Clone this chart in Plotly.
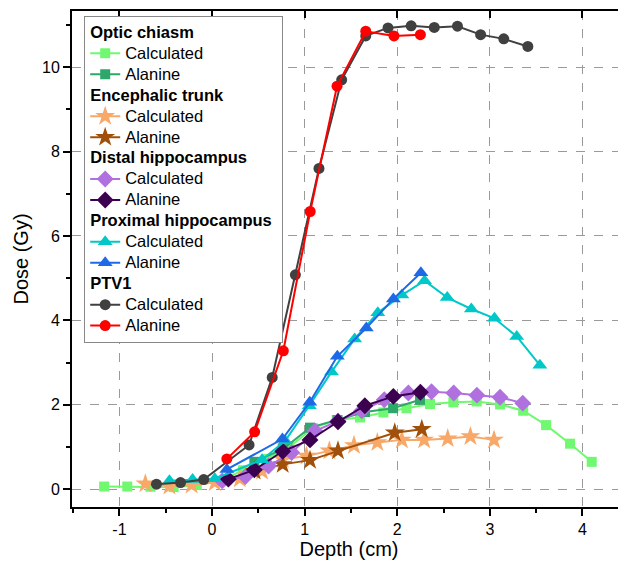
import plotly.graph_objects as go

# ---- data ----
optic_calc_x = [-1.165, -0.915, -0.665, -0.415, -0.165, 0.085, 0.335, 0.585, 0.835, 1.087, 1.347, 1.598, 1.85, 2.10, 2.354, 2.606, 2.858, 3.11, 3.36, 3.607, 3.866, 4.10]
optic_calc_y = [0.065, 0.065, 0.06, 0.05, 0.10, 0.20, 0.45, 0.72, 1.00, 1.45, 1.64, 1.70, 1.82, 1.92, 2.02, 2.06, 2.08, 2.01, 1.86, 1.52, 1.08, 0.65]
optic_ala_x = [0.457, 0.763, 1.058, 1.355, 1.652, 1.955, 2.246]
optic_ala_y = [0.65, 0.95, 1.46, 1.64, 1.83, 1.92, 2.12]

trunk_calc_x = [-0.72, -0.46, -0.22, 0.03, 0.30, 0.54, 0.763, 1.02, 1.267, 1.533, 1.785, 2.05, 2.29, 2.545, 2.79, 3.045]
trunk_calc_y = [0.13, 0.08, 0.10, 0.16, 0.25, 0.43, 0.71, 0.79, 0.91, 1.04, 1.11, 1.17, 1.17, 1.20, 1.25, 1.17]
trunk_ala_x = [0.46, 0.763, 1.058, 1.36, 1.973, 2.265]
trunk_ala_y = [0.43, 0.59, 0.69, 0.91, 1.34, 1.42]

distal_calc_x = [0.11, 0.36, 0.61, 0.86, 1.11, 1.36, 1.617, 1.86, 2.12, 2.37, 2.61, 2.86, 3.11, 3.355]
distal_calc_y = [0.20, 0.30, 0.55, 0.87, 1.38, 1.62, 1.86, 2.12, 2.28, 2.31, 2.28, 2.23, 2.18, 2.04]
distal_ala_x = [0.176, 0.457, 0.763, 1.058, 1.36, 1.65, 1.958, 2.25]
distal_ala_y = [0.24, 0.46, 0.90, 1.17, 1.60, 1.98, 2.20, 2.30]

prox_calc_x = [-0.46, -0.21, 0.03, 0.54, 0.79, 1.05, 1.29, 1.54, 1.79, 2.05, 2.295, 2.54, 2.80, 3.05, 3.29, 3.54]
prox_calc_y = [0.20, 0.23, 0.25, 0.70, 1.15, 1.98, 2.78, 3.56, 4.18, 4.60, 4.94, 4.54, 4.27, 4.05, 3.62, 2.94]
prox_ala_x = [0.16, 0.76, 1.055, 1.353, 1.666, 1.958, 2.255]
prox_ala_y = [0.47, 1.19, 2.06, 3.15, 3.82, 4.51, 5.13]

ptv_calc_x = [-0.60, -0.34, -0.09, 0.40, 0.65, 0.90, 1.155, 1.40, 1.66, 1.90, 2.15, 2.40, 2.65, 2.90, 3.15, 3.41]
ptv_calc_y = [0.12, 0.16, 0.23, 1.05, 2.65, 5.08, 7.60, 9.70, 10.74, 10.93, 10.98, 10.94, 10.97, 10.77, 10.67, 10.49]
ptv_ala_x = [0.16, 0.46, 0.77, 1.06, 1.35, 1.66, 1.965, 2.25]
ptv_ala_y = [0.72, 1.36, 3.28, 6.58, 9.55, 10.85, 10.74, 10.77]

x_ticks = [-1, 0, 1, 2, 3, 4]
x_ticktext = ["-1", "0", "1", "2", "3", "4"]
y_ticks = [0, 2, 4, 6, 8, 10]

FONT = "Arial, Liberation Sans, sans-serif"

series = [
    ("Optic chiasm", "Calculated", optic_calc_x, optic_calc_y, "#70F870", "square", 10),
    ("Optic chiasm", "Alanine", optic_ala_x, optic_ala_y, "#2EA86A", "square", 10),
    ("Encephalic trunk", "Calculated", trunk_calc_x, trunk_calc_y, "#F8A868", "star", 15),
    ("Encephalic trunk", "Alanine", trunk_ala_x, trunk_ala_y, "#A0500A", "star", 15),
    ("Distal hippocampus", "Calculated", distal_calc_x, distal_calc_y, "#B070E0", "diamond", 13),
    ("Distal hippocampus", "Alanine", distal_ala_x, distal_ala_y, "#3C0050", "diamond", 13),
    ("Proximal hippocampus", "Calculated", prox_calc_x, prox_calc_y, "#00C8C8", "triangle-up", 13),
    ("Proximal hippocampus", "Alanine", prox_ala_x, prox_ala_y, "#1E6AE6", "triangle-up", 13),
    ("PTV1", "Calculated", ptv_calc_x, ptv_calc_y, "#404040", "circle", 11),
    ("PTV1", "Alanine", ptv_ala_x, ptv_ala_y, "#FF0000", "circle", 11),
]

LEG = 13.8
SPAN = '<span style="font-size:16.5px">'

fig = go.Figure()
for group, name, xs, ys, color, sym, size in series:
    fig.add_trace(go.Scatter(
        x=xs, y=ys, mode="lines+markers", name=SPAN + name + "</span>",
        legendgroup=group,
        legendgrouptitle=dict(text=SPAN + "<b>" + group + "</b></span>",
                              font=dict(size=LEG, color="black", family=FONT)),
        line=dict(color=color, width=2),
        marker=dict(symbol=sym, size=size, color=color, line=dict(width=0)),
    ))

# invisible trace for top axis with inside ticks
fig.add_trace(go.Scatter(x=[0], y=[0], xaxis="x2", mode="markers",
                         marker=dict(opacity=0), showlegend=False, hoverinfo="skip"))

xr = [-1.512, 4.47]
yr = [-0.42, 11.33]

fig.update_layout(
    width=618, height=560,
    margin=dict(l=64, r=0, t=3, b=61),
    paper_bgcolor="white", plot_bgcolor="white",
    font=dict(family=FONT, color="black", size=16),
    showlegend=True,
    legend=dict(
        x=0.022, y=0.99, xanchor="left", yanchor="top",
        bgcolor="white", bordercolor="#888888", borderwidth=1,
        font=dict(size=LEG, family=FONT, color="black"),
        tracegroupgap=0, traceorder="grouped",
        itemwidth=30,
    ),
    xaxis=dict(
        range=xr, tickvals=x_ticks, ticktext=x_ticktext, ticks="outside", ticklen=7, tickwidth=1.5,
        tickcolor="black", showline=True, linecolor="black", linewidth=2,
        showgrid=True, gridcolor="#9a9a9a", griddash="dash", gridwidth=1,
        zeroline=False, tickfont=dict(size=16), automargin=False,
        minor=dict(dtick=0.5, tick0=0, ticks="outside", ticklen=4, tickcolor="black", showgrid=False),
        title=dict(text="Depth (cm)", font=dict(size=20), standoff=4),
    ),
    xaxis2=dict(
        range=xr, overlaying="x", side="top", tickvals=x_ticks, ticks="inside",
        ticklen=7, tickwidth=1.5, tickcolor="black", showticklabels=False,
        showline=True, linecolor="black", linewidth=2, showgrid=False, zeroline=False,
        automargin=False,
    ),
    yaxis=dict(
        range=yr, tickvals=y_ticks, ticks="outside", ticklen=7, tickwidth=1.5,
        tickcolor="black", showline=True, linecolor="black", linewidth=2,
        showgrid=True, gridcolor="#9a9a9a", griddash="dash", gridwidth=1,
        zeroline=False, tickfont=dict(size=16), automargin=False,
        minor=dict(dtick=1, tick0=1, ticks="outside", ticklen=4, tickcolor="black", showgrid=False),
        title=dict(text="Dose (Gy)", font=dict(size=20), standoff=8),
    ),
)

fig.write_html("out.html")
